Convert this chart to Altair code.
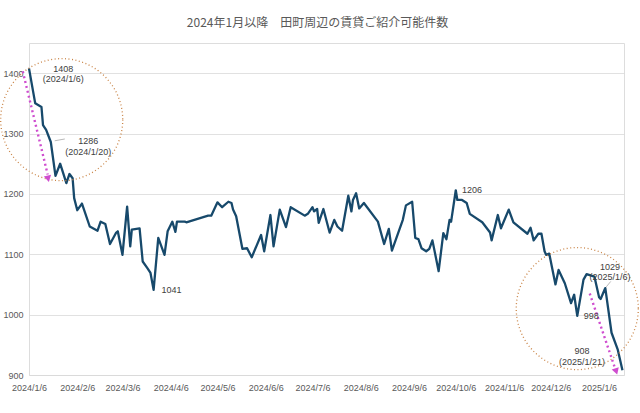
import datetime as dt
import altair as alt
import pandas as pd

BASE = dt.date(2024, 1, 6)

# day offsets from 2024/1/6 and counts
days = [0, 4, 8, 9, 11, 14, 17, 20, 24, 26, 28, 29, 31, 34, 39, 44, 46, 49, 52, 56,
        57, 60, 63, 65, 66, 71, 73, 76, 78, 80, 83, 87, 89, 92, 94, 95, 100, 101, 115, 117,
        121, 124, 128, 130, 131, 133, 137, 140, 143, 149, 151, 155, 157, 161, 165, 168, 177, 179, 182, 183,
        185, 186, 189, 193, 196, 198, 201, 205, 207, 208, 210, 212, 215, 224, 228, 231, 233, 240, 242, 246,
        248, 250, 252, 255, 257, 259, 263, 266, 268, 270, 271, 274, 275, 278, 281, 283, 291, 296, 297, 301,
        303, 308, 311, 320, 322, 324, 327, 329, 331, 332, 334, 338, 340, 344, 348, 350, 352, 356, 358, 363,
        366, 367, 370, 374, 378, 381]
counts = [1408, 1350, 1344, 1314, 1306, 1286, 1230, 1250, 1218, 1233, 1226, 1193, 1173, 1184, 1146, 1139, 1154, 1150, 1117, 1136,
          1138, 1099, 1179, 1113, 1141, 1143, 1088, 1077, 1069, 1041, 1127, 1099, 1138, 1154, 1137, 1154, 1154, 1153, 1164, 1164,
          1186, 1178, 1187, 1185, 1174, 1163, 1109, 1110, 1095, 1132, 1105, 1165, 1113, 1174, 1145, 1178, 1164, 1167, 1178, 1171,
          1175, 1152, 1175, 1136, 1157, 1146, 1139, 1197, 1171, 1190, 1201, 1176, 1185, 1154, 1117, 1142, 1106, 1157, 1181, 1187,
          1127, 1125, 1110, 1105, 1109, 1123, 1072, 1135, 1125, 1157, 1154, 1206, 1190, 1190, 1185, 1167, 1153, 1136, 1123, 1165,
          1143, 1174, 1153, 1134, 1144, 1123, 1134, 1134, 1105, 1099, 1101, 1050, 1074, 1052, 1019, 1033, 998, 1058, 1067, 1063,
          1029, 1026, 1044, 970, 942, 908]
assert len(days) == len(counts)

tick_labels = ["2024/1/6", "2024/2/6", "2024/3/6", "2024/4/6", "2024/5/6", "2024/6/6", "2024/7/6",
               "2024/8/6", "2024/9/6", "2024/10/6", "2024/11/6", "2024/12/6", "2025/1/6"]
y_ticks = [900, 1000, 1100, 1200, 1300, 1400]

# annotations (day offset, value, text)
ann_c_days = [22, 38, 373, 361, 355]
ann_c_vals = [1407, 1287, 1079, 998, 939]
ann_c_text = ["1408\n(2024/1/6)", "1286\n(2024/1/20)", "1029\n(2025/1/6)", "998", "908\n(2025/1/21)"]
ann_l_days = [85, 278]
ann_l_vals = [1041, 1207]
ann_l_text = ["1041", "1206"]

circle_days = [21, 352]
circle_vals = [1323, 1010]

arrow_days = [-4, 360]
arrow_vals = [1403, 1035]
arrow_days2 = [12, 376]
arrow_vals2 = [1232, 913]
head_days = [12.3, 377]
head_vals = [1225, 906]
head_angles = [347, 342]

leader_days = [16.5, 370.6]
leader_vals = [1288, 1046]
leader_days2 = [23, 373.5]
leader_vals2 = [1291, 1055]

TITLE = "2024年1月以降　田町周辺の賃貸ご紹介可能件数"


def d2s(d):
    return (dt.datetime.combine(BASE, dt.time()) + dt.timedelta(days=d)).strftime("%Y-%m-%dT%H:%M:%SZ")


line_df = pd.DataFrame({"date": [d2s(d) for d in days], "count": counts})
annc_df = pd.DataFrame({"date": [d2s(d) for d in ann_c_days], "count": ann_c_vals, "label": ann_c_text})
annl_df = pd.DataFrame({"date": [d2s(d) for d in ann_l_days], "count": ann_l_vals, "label": ann_l_text})
circ_df = pd.DataFrame({"date": [d2s(d) for d in circle_days], "count": circle_vals})
arrow_df = pd.DataFrame({"date": [d2s(d) for d in arrow_days], "count": arrow_vals,
                         "date2": [d2s(d) for d in arrow_days2], "count2": arrow_vals2})
head_df = pd.DataFrame({"date": [d2s(d) for d in head_days], "count": head_vals, "angle": head_angles})
leader_df = pd.DataFrame({"date": [d2s(d) for d in leader_days], "count": leader_vals,
                          "date2": [d2s(d) for d in leader_days2], "count2": leader_vals2})


def to_dt(s):
    y, m, d = [int(v) for v in s.split("/")]
    return alt.DateTime(year=y, month=m, date=d, utc=True)


LABEL_FONT = "Liberation Sans Narrow, Liberation Sans, sans-serif"
GRAY = "#595959"

xscale = alt.Scale(type="utc", domain=[alt.DateTime(year=2024, month=1, date=6, utc=True),
                                       alt.DateTime(year=2025, month=1, date=22, utc=True)])
yscale = alt.Scale(domain=[900, 1450], nice=False, zero=False)

x_enc = alt.X("date:T", scale=xscale, title=None,
              axis=alt.Axis(values=[to_dt(s) for s in tick_labels],
                            labelExpr="utcFormat(datum.value, '%Y/%-m/%-d')",
                            grid=False, ticks=False, domain=False, labelPadding=8,
                            labelFont=LABEL_FONT, labelFontSize=9, labelColor=GRAY,
                            labelOverlap=False, labelFlush=False))
y_enc = alt.Y("count:Q", scale=yscale, title=None,
              axis=alt.Axis(values=y_ticks, format="d", grid=True, gridColor="#d9d9d9", gridWidth=0.8,
                            ticks=False, domain=False, labelPadding=6,
                            labelFont=LABEL_FONT, labelFontSize=9, labelColor=GRAY))

base = alt.Chart(line_df)
line = base.mark_line(color="#17496b", strokeWidth=2.3, strokeJoin="round").encode(x=x_enc, y=y_enc)

circles = alt.Chart(circ_df).mark_point(shape="circle", filled=False, size=14900, color="#c98446",
                                        strokeWidth=1.3, strokeDash=[1, 2.5], opacity=1).encode(
    x="date:T", y="count:Q")

arrows = alt.Chart(arrow_df).mark_rule(color="#cf4dcf", strokeWidth=2.4, strokeDash=[2, 3],
                                       strokeCap="butt").encode(
    x="date:T", y="count:Q", x2="date2:T", y2="count2:Q")
heads = alt.Chart(head_df).mark_point(shape="triangle-down", filled=True, size=55, color="#cf4dcf",
                                      opacity=1).encode(
    x="date:T", y="count:Q", angle=alt.Angle("angle:Q", scale=None))

leaders = alt.Chart(leader_df).mark_rule(color="#a6a6a6", strokeWidth=0.8).encode(
    x="date:T", y="count:Q", x2="date2:T", y2="count2:Q")

text_c = alt.Chart(annc_df).mark_text(font=LABEL_FONT, fontSize=9, color="#404040", align="center",
                                      baseline="middle", lineBreak="\n", lineHeight=10.5).encode(
    x="date:T", y="count:Q", text="label:N")
text_l = alt.Chart(annl_df).mark_text(font=LABEL_FONT, fontSize=9, color="#404040", align="left",
                                      baseline="middle").encode(
    x="date:T", y="count:Q", text="label:N")

chart = alt.layer(line, circles, leaders, arrows, heads, text_c, text_l).properties(
    width=595, height=332,
    title=alt.TitleParams(TITLE, font="Noto Sans CJK JP", fontSize=12, fontWeight="normal",
                          color=GRAY, anchor="middle", dx=-9, offset=13),
    autosize=alt.AutoSizeParams(type="none"),
    padding={"left": 29, "top": 43, "right": 16, "bottom": 38},
).configure_view(stroke=None).configure(background="white")

chart.save("out.html", embed_options={"renderer": "svg", "actions": False})
